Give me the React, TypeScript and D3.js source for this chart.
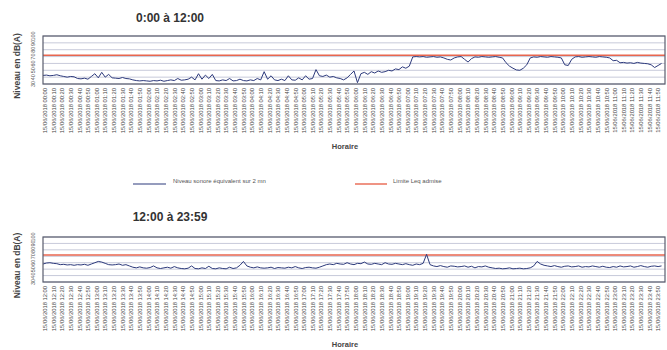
import React from "react";
import * as d3 from "d3";

const morningLevels = [
  42.5, 43, 42, 42.5, 43.5, 42, 41, 40, 41, 40.5,
  38, 37.5, 38.5, 37, 41, 45, 39, 47, 40, 44,
  39, 38.5, 38, 39.5, 38, 37.5, 36, 35, 34.5, 35,
  34.5, 34, 35, 34.5, 35.5, 34, 35, 36, 35, 38,
  35.5, 36, 37, 40, 36, 45, 37, 43, 38, 44,
  35, 34.5, 36, 35, 38, 34.5, 35, 37, 35, 34.5,
  36, 35, 38, 36, 48, 37, 42, 36, 35, 37,
  35, 42, 36, 35.5, 39, 36, 42, 37, 38, 51,
  42, 41, 43, 40, 41, 39, 38, 36, 39, 44,
  49, 32, 45, 47, 44, 48, 46, 49, 47, 48,
  50, 49, 52, 51, 55, 53, 56, 69.5, 70, 69.5,
  70, 69, 69.5, 70, 69, 69.5, 68, 66, 65, 68,
  69.5, 70, 66, 62, 67, 69.5, 69, 70, 69.5, 69,
  69.5, 70, 69, 68, 61, 56, 53, 50.5, 50, 53,
  58, 68, 69.5, 69, 70, 69.5, 69, 70, 69.5, 69,
  68, 58, 57, 66, 69.5, 70, 69, 69.5, 70, 69.5,
  69, 70, 69.5, 69, 68, 64, 64.5, 61, 61.5, 60.5,
  61, 60, 61.5, 60.5, 60, 59.5, 58, 54, 57, 60,
];

const afternoonLevels = [
  58, 59.5, 60, 59, 58.5, 57, 57.5, 56.5, 57, 56,
  57, 56.5, 57.5, 56, 58, 60, 62, 61, 59, 57,
  56.5, 57, 58, 56, 57, 55, 53, 52, 53.5, 52,
  51.5, 52.5, 55, 52, 51, 52, 53, 51.5, 54, 52,
  51, 50.5, 51.5, 55, 51, 50.5, 52, 51, 54.5, 51,
  50.5, 52, 51, 50.5, 53, 51, 52, 56, 62, 55,
  53, 52, 53.5, 52, 51.5, 52, 53, 51, 52.5, 52,
  51.5, 53, 52, 54, 52, 51, 52.5, 53, 52, 51.5,
  53, 55, 57, 58, 57, 59, 58, 57.5, 60, 58,
  57, 59, 58.5, 61, 58, 57.5, 59, 58, 57, 60,
  58, 57.5, 59, 58, 57, 58.5, 57, 56, 58, 57,
  59, 73, 57, 55, 54, 55.5, 54, 53, 55, 54.5,
  53.5, 54, 55, 53, 54.5, 52, 54, 53.5, 55, 53,
  52, 51, 51.5, 50.5, 51, 52, 50.5, 51, 51.5, 50.5,
  51, 52, 55, 62, 58, 56, 55, 54, 55.5, 54,
  53, 54.5, 55, 53.5, 54, 55, 53, 54, 53.5, 55,
  54, 53, 54.5, 53, 52.5, 54, 53, 55, 53.5, 54,
  55, 53, 54, 55.5, 54, 53, 54.5, 55, 54, 55,
];

const limitLeq = 72;
const yTicks = [30, 40, 50, 60, 70, 80, 90, 100];
const chartTitles = ["0:00 à 12:00", "12:00 à 23:59"];
const startHours = [0, 12];
const dateLabel = "15/06/2018";
const stepMinutes = 4;
const labelEveryMinutes = 10;
const legendLabels = ["Niveau sonore équivalent sur 2 mn", "Limite Leq admise"];

const FONT = "'Liberation Sans', Arial, sans-serif";

function pad(n: number) {
  return n < 10 ? "0" + n : "" + n;
}

function Panel({ levels, title, startHour, top, boxTop, boxBottom }: any) {
  const left = 43;
  const right = 665;
  const x = d3.scaleLinear().domain([0, 720]).range([left, right]);
  const y = d3.scaleLinear().domain([30, 100]).range([boxBottom, boxTop]);
  const line = d3
    .line<number>()
    .x((_, i) => x(i * stepMinutes))
    .y((d) => y(d))
    .curve(d3.curveLinear);
  const labelMinutes = d3.range(0, 720, labelEveryMinutes);
  const midY = (boxTop + boxBottom) / 2;
  return (
    <g>
      <text x={170} y={top} textAnchor="middle" fontFamily={FONT} fontWeight="bold" fontSize={12} fill="#333">
        {title}
      </text>
      <text
        transform={`translate(20,${midY + 6}) rotate(-90)`}
        textAnchor="middle"
        fontFamily={FONT}
        fontWeight="bold"
        fontSize={8.5}
        fill="#444"
      >
        Niveau en dB(A)
      </text>
      {yTicks.map((t) => (
        <g key={t}>
          <line x1={left} x2={right} y1={y(t)} y2={y(t)} stroke="#b9bdd0" strokeWidth={0.8} />
          <text
            transform={`translate(${left - 8},${y(t)}) rotate(-90)`}
            textAnchor="middle"
            fontFamily={FONT}
            fontSize={5.5}
            fill="#555"
          >
            {t}
          </text>
        </g>
      ))}
      <line x1={left} x2={right} y1={y(limitLeq)} y2={y(limitLeq)} stroke="#e8664f" strokeWidth={1.6} />
      <path d={line(levels) || ""} fill="none" stroke="#2d3a7c" strokeWidth={1} />
      <rect x={left} y={boxTop} width={right - left} height={boxBottom - boxTop} fill="none" stroke="#5a5e6e" strokeWidth={1.2} />
      {labelMinutes.map((m) => {
        const total = startHour * 60 + m;
        const lbl = `${dateLabel} ${pad(Math.floor(total / 60))}:${pad(total % 60)}`;
        return (
          <text
            key={m}
            transform={`translate(${x(m) + 4},${boxBottom + 4}) rotate(-90)`}
            textAnchor="end"
            fontFamily={FONT}
            fontSize={5.8}
            fill="#444"
          >
            {lbl}
          </text>
        );
      })}
    </g>
  );
}

export default function App() {
  return (
    <svg width={667} height={350} style={{ position: "absolute", left: 0, top: 0, background: "#fff" }}>
      <rect width={667} height={350} fill="#fff" />
      <Panel levels={morningLevels} title={chartTitles[0]} startHour={startHours[0]} top={22} boxTop={36} boxBottom={84} />
      <text x={345} y={149} textAnchor="middle" fontFamily={FONT} fontWeight="bold" fontSize={7.5} fill="#444">
        Horaire
      </text>
      <line x1={133} x2={166} y1={184} y2={184} stroke="#2d3a7c" strokeWidth={1.2} />
      <text x={173} y={183} fontFamily={FONT} fontSize={6} fill="#555">
        {legendLabels[0]}
      </text>
      <line x1={355} x2={387} y1={184} y2={184} stroke="#e8664f" strokeWidth={1.4} />
      <text x={393} y={183} fontFamily={FONT} fontSize={6} fill="#555">
        {legendLabels[1]}
      </text>
      <Panel levels={afternoonLevels} title={chartTitles[1]} startHour={startHours[1]} top={221} boxTop={237} boxBottom={282} />
      <text x={345} y={347} textAnchor="middle" fontFamily={FONT} fontWeight="bold" fontSize={7.5} fill="#444">
        Horaire
      </text>
    </svg>
  );
}
